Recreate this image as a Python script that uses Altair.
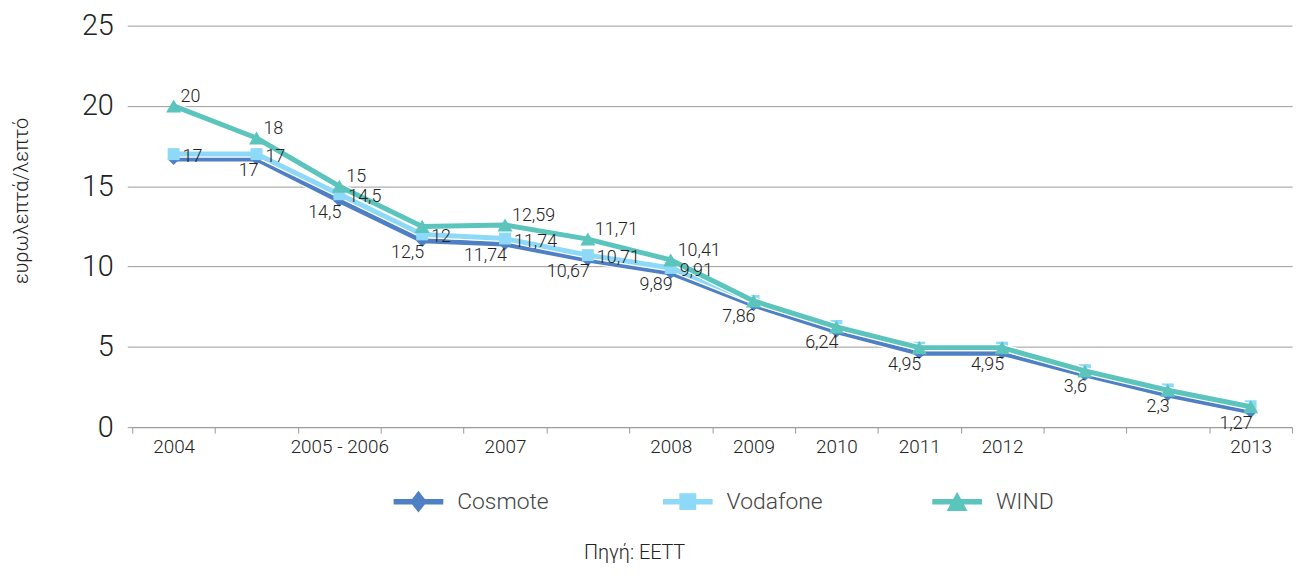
import altair as alt
import pandas as pd

# ---------------- data ----------------
categories = list(range(14))
x_labels = ["2004", "", "2005 - 2006", "", "2007", "", "2008", "2009", "2010",
            "2011", "2012", "", "", "2013"]
series = ["Cosmote", "Vodafone", "WIND"]

cosmote = [16.7, 16.7, 14.1, 11.6, 11.4, 10.4, 9.6, 7.6, 5.95, 4.6, 4.6, 3.25, 2.0, 0.95]
vodafone = [17, 17, 14.5, 12, 11.74, 10.71, 9.91, 7.86, 6.3, 4.95, 4.95, 3.55, 2.35, 1.3]
wind = [20, 18, 15, 12.5, 12.59, 11.71, 10.41, 7.86, 6.24, 4.95, 4.95, 3.5, 2.3, 1.27]

cosmote_labels = ["", "17", "14,5", "12,5", "11,74", "10,67", "9,89", "7,86", "6,24",
                  "4,95", "4,95", "3,6", "2,3", "1,27"]
vodafone_labels = ["17", "17", "14,5", "12", "11,74", "10,71", "9,91", "", "", "", "", "", "", ""]
wind_labels = ["20", "18", "15", "", "12,59", "11,71", "10,41", "", "", "", "", "", "", ""]

colors = ["#4F7FC4", "#8ED8F8", "#5BC4BC"]
point_shapes = ["diamond", "square", "triangle-up"]
point_sizes = [150, 144, 230]
legend_paths = [
    "M-1,-0.11L1,-0.11L1,0.11L-1,0.11Z M0,-0.44L0.34,0L0,0.44L-0.34,0Z",
    "M-1,-0.11L1,-0.11L1,0.11L-1,0.11Z M-0.34,-0.34L0.34,-0.34L0.34,0.34L-0.34,0.34Z",
    "M-1,-0.11L1,-0.11L1,0.11L-1,0.11Z M0,-0.4L0.42,0.38L-0.42,0.38Z",
]
# (dx, dy, align)
label_offsets = {"Cosmote": (2, 12, "right"), "Vodafone": (9, 3, "left"), "WIND": (7, -9, "left")}

values = {"Cosmote": cosmote, "Vodafone": vodafone, "WIND": wind}
labels = {"Cosmote": cosmote_labels, "Vodafone": vodafone_labels, "WIND": wind_labels}

rows = []
for s in series:
    for c, v, l in zip(categories, values[s], labels[s]):
        rows.append({"idx": c, "series": s, "value": v, "label": l})
df = pd.DataFrame(rows)

FONT = "Roboto"
label_expr = "[" + ",".join("'" + l + "'" for l in x_labels) + "][datum.value]"

x_enc = alt.X(
    "idx:O",
    scale=alt.Scale(type="band", paddingInner=0, paddingOuter=0),
    axis=alt.Axis(
        tickBand="extent", labelExpr=label_expr, labelAngle=0,
        labelFontSize=19, labelColor="#222", labelPadding=5, labelFontWeight=300,
        tickSize=6, tickColor="#999", domainColor="#999", grid=False,
        title="Πηγή: ΕΕΤΤ", titleFontSize=20, titleFontWeight=300,
        titleColor="#222", titleX=505, titleY=116, titleAnchor="start",
        titleAlign="center",
    ),
)
y_enc = alt.Y(
    "value:Q",
    scale=alt.Scale(domain=[0, 25], nice=False),
    axis=alt.Axis(
        values=[0, 5, 10, 15, 20, 25], domain=False, tickSize=5,
        tickColor="#999", gridColor="#9a9a9a", labelFontSize=29, labelFontWeight=300,
        labelColor="#222", labelPadding=14,
        title="ευρωλεπτά/λεπτό", titleFontSize=20, titleFontWeight=300,
        titleColor="#222", titleX=-111, titleY=176, titleAngle=-90,
        titleAlign="center", titleBaseline="middle",
    ),
)

base = alt.Chart(df)
layers = []
for s, col, shp, sz in zip(series, colors, point_shapes, point_sizes):
    b = base.transform_filter(alt.datum.series == s)
    layers.append(b.mark_line(strokeWidth=7.5, color="white").encode(x=x_enc, y=y_enc))
    layers.append(b.mark_line(strokeWidth=5, color=col).encode(x=x_enc, y=y_enc))
    layers.append(b.mark_point(filled=True, opacity=1, shape=shp, size=sz, color=col)
                  .encode(x=x_enc, y=y_enc))

for s in series:
    dx, dy, al = label_offsets[s]
    b = base.transform_filter(alt.datum.series == s)
    layers.append(
        b.mark_text(dx=dx, dy=dy, align=al, fontSize=18, fontWeight=300,
                    color="#222", font=FONT)
        .encode(x=x_enc, y=y_enc, text="label:N")
    )

leg = alt.Legend(title=None, orient="none", direction="horizontal",
                 legendX=263, legendY=454, symbolSize=2500,
                 symbolOpacity=1, symbolStrokeWidth=0,
                 labelFontSize=23, labelFontWeight=300, labelColor="#444",
                 labelFont=FONT, labelOffset=14, columnPadding=110, gridAlign="all")
legend_layer = base.mark_point(filled=True, opacity=0).encode(
    x=x_enc, y=y_enc,
    color=alt.Color("series:N", scale=alt.Scale(domain=series, range=colors), legend=leg),
    shape=alt.Shape("series:N", scale=alt.Scale(domain=series, range=legend_paths), legend=leg),
)
layers.append(legend_layer)

chart = alt.layer(*layers).properties(
    width=1167, height=404,
    autosize=alt.AutoSizeParams(type="none"),
    padding={"left": 125, "top": 16, "right": 8, "bottom": 140},
).configure(font=FONT).configure_view(stroke=None).configure_axis(
    labelFont=FONT, titleFont=FONT
)

chart.save("out.html", embed_options={"renderer": "svg", "actions": False})
